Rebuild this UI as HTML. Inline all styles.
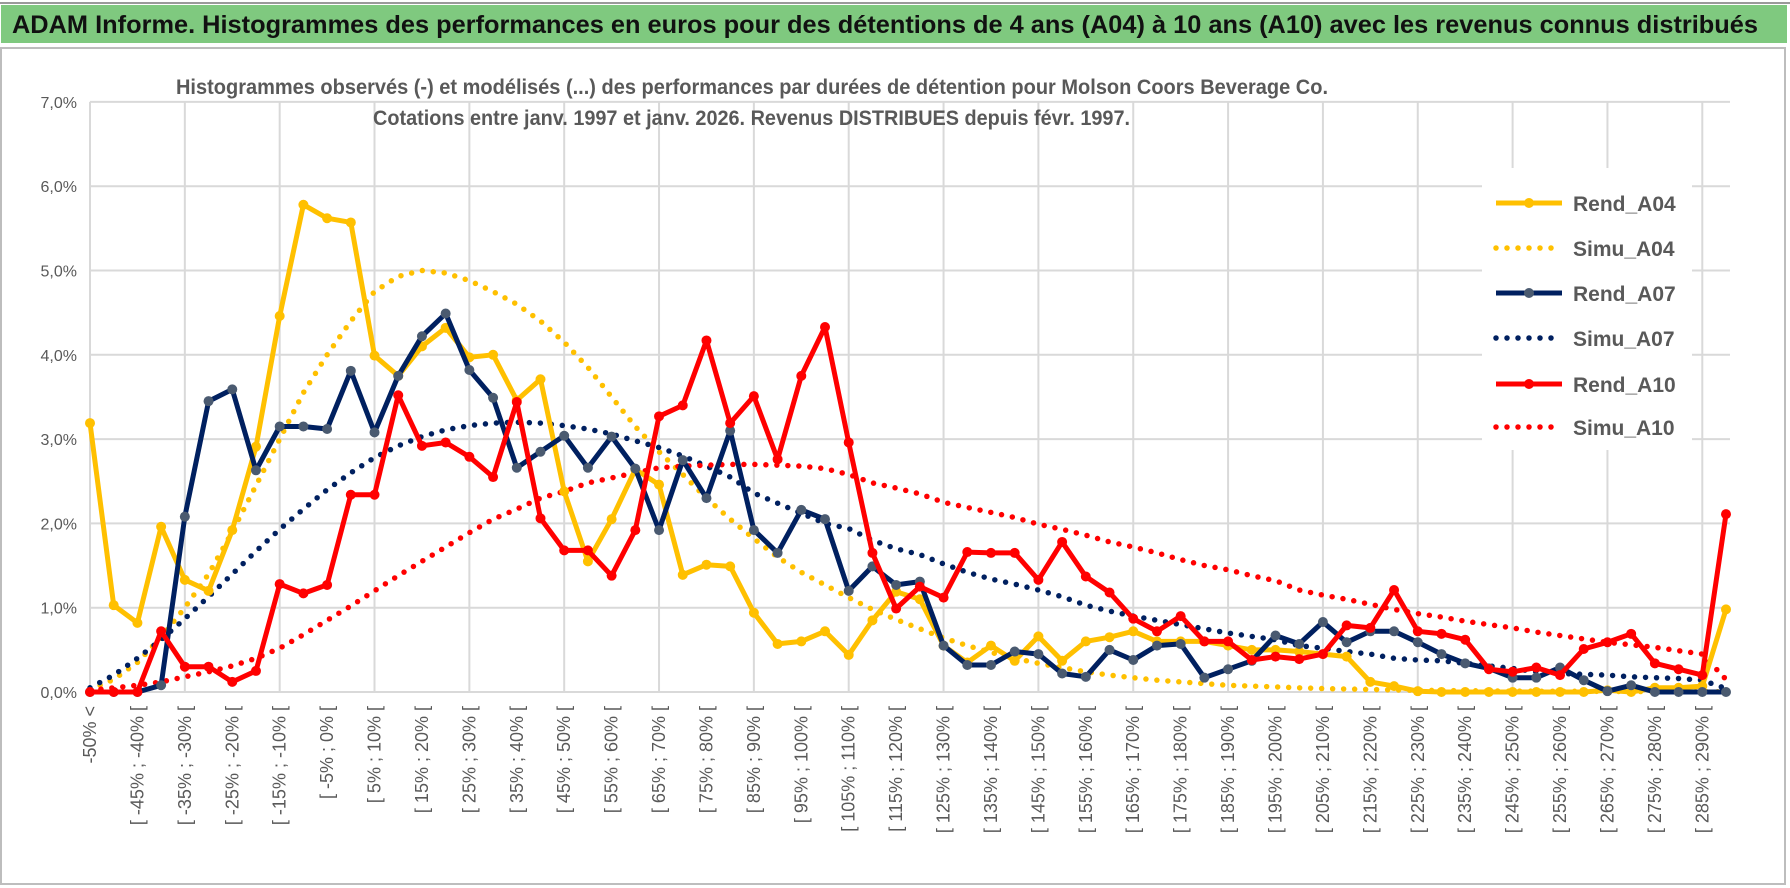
<!DOCTYPE html>
<html><head><meta charset="utf-8"><style>
html,body{margin:0;padding:0;background:#fff;}
svg{display:block;font-family:"Liberation Sans",sans-serif;}
</style></head><body>
<svg id="chart" width="1790" height="888" viewBox="0 0 1790 888" xmlns="http://www.w3.org/2000/svg">
<rect x="0" y="0" width="1790" height="888" fill="#fff"/>
<rect x="1" y="5" width="1786" height="38" fill="#7fc97f"/>
<line x1="0" y1="3" x2="1790" y2="3" stroke="#9a9a9a" stroke-width="2"/>
<text x="12" y="33" font-size="25" font-weight="bold" fill="#111" textLength="1746" lengthAdjust="spacingAndGlyphs">ADAM Informe. Histogrammes des performances en euros pour des détentions de 4 ans (A04) à 10 ans (A10) avec les revenus connus distribués</text>
<rect x="1" y="48" width="1784" height="836" fill="none" stroke="#bdbdbd" stroke-width="2"/>
<g id="grid"></g>
<rect x="1482" y="168" width="210" height="282" fill="#fff"/>
<text x="176" y="94" font-size="21" font-weight="bold" fill="#595959" textLength="1152" lengthAdjust="spacingAndGlyphs">Histogrammes observés (-) et modélisés (...) des performances par durées de détention pour Molson Coors Beverage Co.</text>
<text x="373" y="125" font-size="21" font-weight="bold" fill="#595959" textLength="757" lengthAdjust="spacingAndGlyphs">Cotations entre janv. 1997 et janv. 2026. Revenus DISTRIBUES depuis févr. 1997.</text>
<g id="yaxis"></g>
<g id="xaxis"></g>
<g id="series"></g>
<g id="legend"></g>
</svg>
<script>
const rendA04=[3.19,1.03,0.82,1.96,1.33,1.2,1.92,2.91,4.46,5.78,5.62,5.57,3.99,3.75,4.1,4.32,3.97,4.0,3.46,3.71,2.38,1.55,2.05,2.64,2.46,1.39,1.51,1.49,0.94,0.57,0.6,0.72,0.44,0.85,1.19,1.1,0.55,0.35,0.55,0.37,0.66,0.37,0.6,0.65,0.72,0.6,0.6,0.6,0.55,0.5,0.5,0.48,0.45,0.42,0.12,0.07,0.01,0.0,0.0,0.0,0.0,0.0,0.0,0.0,0.02,0.0,0.05,0.05,0.07,0.98];
const simuA04=[0.03,0.15,0.35,0.65,1.0,1.4,1.9,2.45,3.0,3.55,4.0,4.4,4.75,4.93,5.0,4.97,4.88,4.75,4.6,4.4,4.15,3.85,3.5,3.15,2.85,2.58,2.3,2.05,1.82,1.6,1.42,1.27,1.12,0.98,0.86,0.75,0.64,0.55,0.47,0.4,0.34,0.29,0.24,0.2,0.17,0.14,0.12,0.1,0.08,0.07,0.06,0.05,0.04,0.035,0.03,0.025,0.02,0.018,0.015,0.013,0.011,0.01,0.009,0.008,0.007,0.006,0.005,0.005,0.004,0.003];
const rendA07=[0,0,0,0.08,2.08,3.45,3.59,2.63,3.15,3.15,3.12,3.81,3.08,3.75,4.22,4.49,3.82,3.49,2.66,2.85,3.04,2.66,3.03,2.65,1.92,2.75,2.3,3.1,1.92,1.65,2.16,2.05,1.2,1.49,1.27,1.31,0.55,0.32,0.32,0.48,0.45,0.22,0.18,0.5,0.38,0.55,0.57,0.17,0.27,0.37,0.67,0.57,0.83,0.59,0.72,0.72,0.59,0.45,0.34,0.28,0.17,0.17,0.29,0.14,0.01,0.08,0,0,0,0];
const simuA07=[0.05,0.2,0.4,0.62,0.87,1.13,1.4,1.67,1.93,2.17,2.4,2.6,2.78,2.92,3.03,3.11,3.16,3.19,3.2,3.19,3.16,3.12,3.06,2.98,2.9,2.8,2.68,2.55,2.36,2.24,2.12,2.0,1.94,1.8,1.7,1.63,1.52,1.42,1.34,1.28,1.21,1.13,1.03,0.96,0.9,0.85,0.8,0.75,0.7,0.66,0.62,0.55,0.52,0.48,0.45,0.4,0.38,0.37,0.34,0.31,0.28,0.24,0.22,0.21,0.2,0.18,0.17,0.16,0.14,0.04];
const rendA10=[0,0,0,0.72,0.3,0.3,0.12,0.25,1.28,1.17,1.27,2.34,2.34,3.52,2.92,2.96,2.79,2.55,3.44,2.06,1.68,1.68,1.38,1.92,3.27,3.4,4.17,3.19,3.51,2.76,3.75,4.33,2.96,1.65,0.99,1.25,1.12,1.66,1.65,1.65,1.33,1.78,1.37,1.18,0.87,0.72,0.9,0.6,0.6,0.38,0.42,0.39,0.45,0.79,0.76,1.21,0.72,0.69,0.62,0.27,0.24,0.29,0.2,0.51,0.59,0.69,0.34,0.27,0.2,2.11];
const simuA10=[0.02,0.05,0.08,0.12,0.18,0.24,0.31,0.4,0.52,0.68,0.85,1.02,1.2,1.38,1.55,1.72,1.89,2.05,2.17,2.3,2.38,2.48,2.54,2.6,2.66,2.68,2.69,2.7,2.7,2.69,2.68,2.65,2.58,2.48,2.42,2.35,2.25,2.19,2.13,2.07,1.99,1.93,1.86,1.78,1.72,1.65,1.57,1.5,1.45,1.38,1.32,1.21,1.15,1.1,1.04,0.98,0.93,0.89,0.84,0.8,0.76,0.71,0.67,0.63,0.59,0.56,0.53,0.49,0.45,0.15];
const yTicks=[0,1,2,3,4,5,6,7];
const yTickLabels=["0,0%","1,0%","2,0%","3,0%","4,0%","5,0%","6,0%","7,0%"];
const categories=rendA04.map((_,i)=>{ if(i===0) return "-50% <"; if(i===rendA04.length-1) return "> 290%"; const a=-50+(i-1)*5; return "[ "+a+"% ; "+(a+5)+"% ["; });

const NS="http://www.w3.org/2000/svg";
const X0=90,X1=1726,Y0=692,PPU=84.3;
const N=categories.length;
const xs=i=>X0+i*(X1-X0)/(N-1);
const ys=v=>Y0-v*PPU;
function mk(tag,attrs,parent){const e=document.createElementNS(NS,tag);for(const k in attrs)e.setAttribute(k,attrs[k]);parent.appendChild(e);return e;}
const grid=document.getElementById('grid'),yax=document.getElementById('yaxis'),xax=document.getElementById('xaxis'),ser=document.getElementById('series'),leg=document.getElementById('legend');
yTicks.forEach((t,k)=>{
  const l=mk('line',{x1:X0,x2:X1+4,y1:ys(t),y2:ys(t),stroke:'#d9d9d9','stroke-width':2},grid);
  
  
  const tx=mk('text',{x:77,y:ys(t)+6,'text-anchor':'end','font-size':16,fill:'#595959'},yax);
  
  
  tx.textContent=yTickLabels[k];
});
for(let i=0;i<N;i+=4){
  const l=mk('line',{x1:xs(i),x2:xs(i),y1:ys(7),y2:Y0,stroke:'#d9d9d9','stroke-width':2},grid);
  
  
}
categories.forEach((c,i)=>{
  if(i%2!==0) return;
  const x=xs(i)+6,y=706;
  const tx=mk('text',{x:x,y:y,'text-anchor':'end','font-size':18,fill:'#595959',transform:`rotate(-90 ${x} ${y})`},xax);
  
  
  tx.textContent=c;
});
function pts(arr){return arr.map((v,i)=>xs(i).toFixed(1)+','+ys(v).toFixed(1)).join(' ');}
const dotted={'stroke-width':5.5,'stroke-linecap':'round','stroke-dasharray':'0 11',fill:'none'};
function simu(arr,color,name){
  const p=mk('polyline',Object.assign({points:pts(arr),stroke:color},dotted),ser);
  
  
}
function rend(arr,color,mcol,name){
  const g=mk('g',{},ser);
  
  
  mk('polyline',{points:pts(arr),stroke:color,'stroke-width':5,fill:'none','stroke-linejoin':'round'},g);
  arr.forEach((v,i)=>{
    const c=mk('circle',{cx:xs(i),cy:ys(v),r:5,fill:mcol},g);
    
    
  });
}
simu(simuA04,'#ffc000','simu-a04-line');
simu(simuA07,'#002060','simu-a07-line');
simu(simuA10,'#ff0000','simu-a10-line');
rend(rendA04,'#ffc000','#ffc000','rend-a04-line');
rend(rendA07,'#002060','#4a5a70','rend-a07-line');
rend(rendA10,'#ff0000','#ff0000','rend-a10-line');
const legItems=[["Rend_A04","#ffc000","#ffc000",false],["Simu_A04","#ffc000","",true],["Rend_A07","#002060","#4a5a70",false],["Simu_A07","#002060","",true],["Rend_A10","#ff0000","#ff0000",false],["Simu_A10","#ff0000","",true]];
const legY=[203,248,293,338,384,427];
legItems.forEach((it,k)=>{
  const g=mk('g',{},leg);
  
  
  const y=legY[k];
  if(it[3]){ mk('line',Object.assign({x1:1496,x2:1560,y1:y,y2:y,stroke:it[1]},dotted),g); }
  else { mk('line',{x1:1496,x2:1562,y1:y,y2:y,stroke:it[1],'stroke-width':5},g); mk('circle',{cx:1529,cy:y,r:5,fill:it[2]},g); }
  const t=mk('text',{x:1573,y:y+8,'font-size':21,'font-weight':'bold',fill:'#595959'},g);
  t.textContent=it[0];
});
</script>
</body></html>
